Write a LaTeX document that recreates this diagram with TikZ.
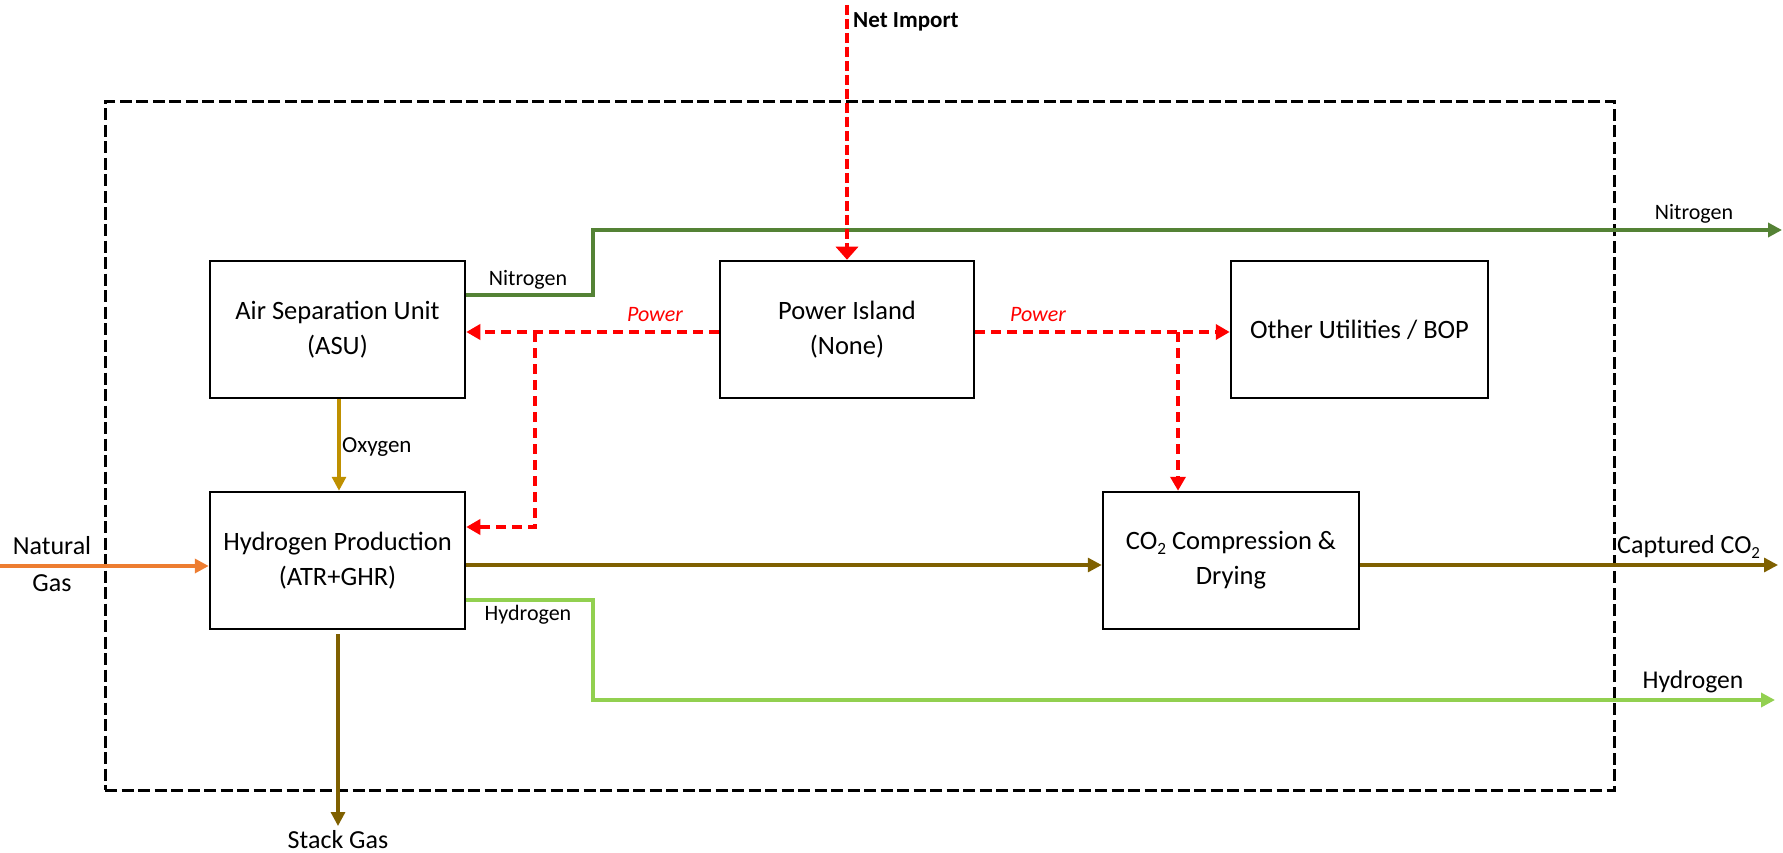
\documentclass[tikz,border=0pt]{standalone}
\usepackage{fontspec}
\setmainfont{Carlito}
\usetikzlibrary{arrows.meta}
\definecolor{nitro}{HTML}{548235}
\definecolor{oxy}{HTML}{BF9000}
\definecolor{co2brown}{HTML}{7F6000}
\definecolor{gasorange}{HTML}{ED7D31}
\definecolor{hydro}{HTML}{92D050}
\definecolor{powred}{HTML}{FF0000}
% subscript two for CO2
\newcommand{\lowtwo}{\raisebox{-0.35ex}{\scalebox{0.65}{2}}}

\begin{document}
\begin{tikzpicture}[x=1pt,y=-1pt,
  unit/.style={draw=black,line width=2.5pt,minimum width=255pt,minimum height=137pt,
    align=center,inner sep=0pt,font=\fontsize{26.5}{35}\selectfont},
  lbl/.style={inner sep=0pt,font=\fontsize{22}{26}\selectfont},
  biglbl/.style={inner sep=0pt,align=center,font=\fontsize{26}{37}\selectfont},
  powlbl/.style={inner sep=0pt,text=powred,font=\itshape\fontsize{22}{26}\selectfont},
  flow/.style={line width=3.2pt,-{Triangle[length=14pt,width=14pt]}},
  power/.style={draw=powred,line width=3.5pt,dash pattern=on 10pt off 6pt,
    -{Triangle[length=14pt,width=15pt]}},
  bound/.style={draw=black,line width=3pt,dash pattern=on 12pt off 4.5pt,
    minimum width=1509pt,minimum height=688pt,inner sep=0pt},
]
\useasboundingbox (0,0) rectangle (1783,853);

% system boundary
\node[bound] (sys) at (859.5,446) {};

% process units
\node[unit] (asu) at (337.5,329.5) {Air Separation Unit\\(ASU)};
\node[unit,minimum width=254pt] (pi) at (847,329.5) {Power Island\\(None)};
\node[unit,minimum width=257pt] (ou) at (1359.5,329.5) {Other Utilities / BOP};
\node[unit] (h2) at (337.5,560.5) {Hydrogen Production\\(ATR+GHR)};
\node[unit,minimum width=256pt] (cc) at (1231,560.5) {CO\lowtwo{} Compression \&\\Drying};

% free ends of the streams
\coordinate (netsrc) at (847,5);
\coordinate (n2out) at (1782,230);
\coordinate (ngsrc) at (0,566);
\coordinate (co2out) at (1778,565);
\coordinate (h2out) at (1775,700);
\coordinate (stackout) at (338,826);

% nitrogen
\draw[flow,nitro,line width=4pt] (asu.east |- 0,295) -| (593,230) -- (n2out);
% power
\draw[power,dash pattern=on 10pt off 4pt,-{Triangle[length=13pt,width=22pt]}] (netsrc) -- (pi.north);
\draw[power] (pi.west |- 0,332) -- (asu.east |- 0,332);
\draw[power] (535,332) |- (h2.east |- 0,527);
\draw[power] (pi.east |- 0,332) -- (ou.west |- 0,332);
\draw[power] (1178,332) -- (1178,0 |- cc.north);
% oxygen
\draw[flow,oxy] (asu.south -| 339,0) -- (h2.north -| 339,0);
% natural gas
\draw[flow,gasorange,line width=4pt] (ngsrc) -- (h2.west |- ngsrc);
% raw CO2 and captured CO2
\draw[flow,co2brown] (h2.east |- 0,565) -- (cc.west |- 0,565);
\draw[flow,co2brown] (cc.east |- co2out) -- (co2out);
% hydrogen product
\draw[flow,hydro,line width=3.5pt] (h2.east |- 0,600) -| (593,700) -- (h2out);
% stack gas
\draw[flow,co2brown,shorten <=4pt] (h2.south -| stackout) -- (stackout);

% stream labels
\node[lbl,anchor=west,font=\bfseries\fontsize{23}{26}\selectfont] (netlbl) at (853,22) {Net Import};
\node[lbl] (n2lbl) at (528,280) {Nitrogen};
\node[powlbl] (pwl) at (655,315) {Power};
\node[powlbl] (pwr) at (1038,315) {Power};
\node[lbl,anchor=west,font=\fontsize{23}{26}\selectfont] (o2lbl) at (342,447) {Oxygen};
\node[biglbl] (nglbl) at (52,564.5) {Natural\\Gas};
\node[lbl] (h2lbl) at (528,615) {Hydrogen};
\node[biglbl] (stacklbl) at (338,840) {Stack Gas};
\node[biglbl,anchor=west] (co2lbl) at (1617,547) {Captured CO\lowtwo};
\node[lbl,font=\fontsize{25.6}{30}\selectfont] (h2outlbl) at (1693,682) {Hydrogen};
\node[lbl] (n2outlbl) at (1694,214) {Nitrogen};
\end{tikzpicture}
\end{document}
